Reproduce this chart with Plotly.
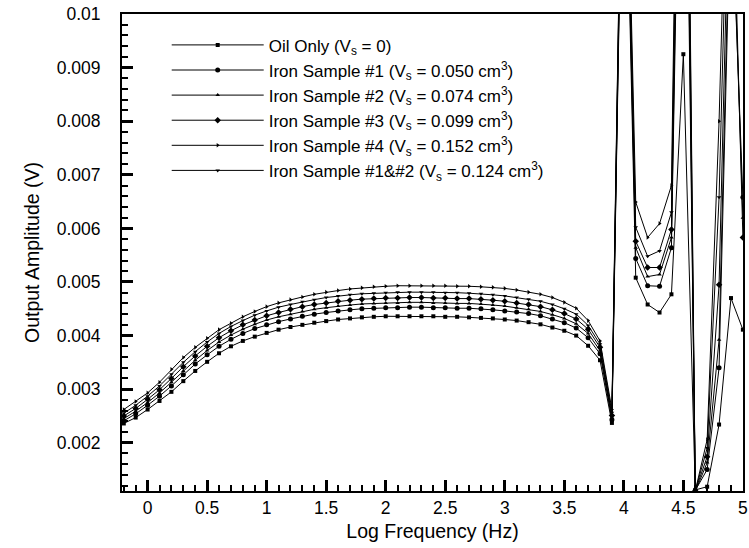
import plotly.graph_objects as go

log_freq = [-0.2, -0.1, 0.0, 0.1, 0.2, 0.3, 0.4, 0.5, 0.6, 0.7, 0.8, 0.9,
            1.0, 1.1, 1.2, 1.3, 1.4, 1.5, 1.6, 1.7, 1.8, 1.9,
            2.0, 2.1, 2.2, 2.3, 2.4, 2.5, 2.6, 2.7, 2.8, 2.9,
            3.0, 3.1, 3.2, 3.3, 3.4, 3.5, 3.6, 3.7, 3.8, 3.9,
            4.0, 4.1, 4.2, 4.3, 4.4, 4.5, 4.6, 4.7, 4.8, 4.9, 5.0]

oil_only = [0.00236, 0.00247, 0.00262, 0.00278, 0.00295, 0.00315, 0.00334, 0.00351, 0.00367, 0.00380, 0.00390, 0.00398,
            0.00405, 0.00411, 0.00416, 0.00420, 0.00424, 0.00427, 0.00430, 0.00432, 0.00434, 0.00435,
            0.00436, 0.00436, 0.00436, 0.00436, 0.00436, 0.00435, 0.00435, 0.00434, 0.00433, 0.00432,
            0.00430, 0.00428, 0.00425, 0.00421, 0.00415, 0.00409, 0.00400, 0.00381, 0.00354, 0.00237,
            0.0150, 0.00508, 0.00458, 0.00443, 0.00477, 0.00925, 0.00112, 0.00118, 0.00234, 0.00470, 0.00411]

sample_1 = [0.00241, 0.00254, 0.00270, 0.00287, 0.00306, 0.00327, 0.00347, 0.00364, 0.00380, 0.00393, 0.00404, 0.00413,
            0.00420, 0.00426, 0.00431, 0.00436, 0.00440, 0.00443, 0.00446, 0.00448, 0.00450, 0.00451,
            0.00452, 0.00452, 0.00453, 0.00453, 0.00452, 0.00452, 0.00451, 0.00451, 0.00450, 0.00448,
            0.00446, 0.00444, 0.00441, 0.00437, 0.00431, 0.00424, 0.00414, 0.00396, 0.00366, 0.00243,
            0.0152, 0.00544, 0.00493, 0.00492, 0.00564, 0.0180, 0.00111, 0.00150, 0.00340, 0.0125, 0.00658]

sample_2 = [0.00245, 0.00259, 0.00275, 0.00293, 0.00313, 0.00334, 0.00354, 0.00372, 0.00388, 0.00401, 0.00412, 0.00421,
            0.00429, 0.00435, 0.00440, 0.00445, 0.00449, 0.00452, 0.00455, 0.00457, 0.00459, 0.00460,
            0.00461, 0.00461, 0.00462, 0.00462, 0.00461, 0.00461, 0.00460, 0.00460, 0.00459, 0.00457,
            0.00455, 0.00452, 0.00449, 0.00445, 0.00439, 0.00432, 0.00422, 0.00404, 0.00372, 0.00247,
            0.0154, 0.00564, 0.00510, 0.00514, 0.00583, 0.0190, 0.00109, 0.00163, 0.00392, 0.0130, 0.00620]

sample_3 = [0.00250, 0.00264, 0.00281, 0.00299, 0.00320, 0.00342, 0.00362, 0.00380, 0.00396, 0.00409, 0.00420, 0.00429,
            0.00437, 0.00443, 0.00449, 0.00454, 0.00458, 0.00461, 0.00464, 0.00466, 0.00468, 0.00469,
            0.00470, 0.00470, 0.00471, 0.00471, 0.00470, 0.00470, 0.00469, 0.00469, 0.00468, 0.00466,
            0.00464, 0.00461, 0.00458, 0.00454, 0.00448, 0.00441, 0.00431, 0.00412, 0.00378, 0.00251,
            0.0156, 0.00576, 0.00527, 0.00527, 0.00598, 0.0200, 0.00110, 0.00174, 0.00495, 0.0140, 0.00583]

sample_4 = [0.00262, 0.00277, 0.00293, 0.00313, 0.00337, 0.00359, 0.00378, 0.00395, 0.00411, 0.00423, 0.00435, 0.00445,
            0.00454, 0.00461, 0.00467, 0.00472, 0.00477, 0.00481, 0.00484, 0.00487, 0.00489, 0.00491,
            0.00492, 0.00493, 0.00493, 0.00493, 0.00493, 0.00493, 0.00492, 0.00492, 0.00491, 0.00490,
            0.00488, 0.00485, 0.00481, 0.00477, 0.00471, 0.00462, 0.00451, 0.00428, 0.00390, 0.00262,
            0.0160, 0.00649, 0.00583, 0.00609, 0.00680, 0.0220, 0.00110, 0.00206, 0.00800, 0.0160, 0.0120]

sample_12 = [0.00255, 0.00270, 0.00287, 0.00306, 0.00328, 0.00350, 0.00370, 0.00388, 0.00404, 0.00417, 0.00428, 0.00438,
             0.00446, 0.00453, 0.00458, 0.00463, 0.00467, 0.00471, 0.00474, 0.00476, 0.00478, 0.00479,
             0.00480, 0.00481, 0.00481, 0.00481, 0.00481, 0.00480, 0.00480, 0.00479, 0.00478, 0.00476,
             0.00474, 0.00471, 0.00468, 0.00464, 0.00458, 0.00450, 0.00440, 0.00419, 0.00384, 0.00256,
             0.0158, 0.00602, 0.00548, 0.00558, 0.00630, 0.0210, 0.00110, 0.00190, 0.00658, 0.0150, 0.0110]

series_names = [
    "Oil Only (V<sub>s</sub> = 0)",
    "Iron Sample #1 (V<sub>s</sub> = 0.050 cm<sup>3</sup>)",
    "Iron Sample #2 (V<sub>s</sub> = 0.074 cm<sup>3</sup>)",
    "Iron Sample #3 (V<sub>s</sub> = 0.099 cm<sup>3</sup>)",
    "Iron Sample #4 (V<sub>s</sub> = 0.152 cm<sup>3</sup>)",
    "Iron Sample #1&#2 (V<sub>s</sub> = 0.124 cm<sup>3</sup>)",
]
series_values = [oil_only, sample_1, sample_2, sample_3, sample_4, sample_12]
series_symbols = ["square", "circle", "triangle-up", "diamond", "triangle-right", "triangle-down"]
series_sizes = [4, 5, 4, 5, 4, 4]

x_tickvals = [0, 0.5, 1, 1.5, 2, 2.5, 3, 3.5, 4, 4.5, 5]
x_ticktext = ["0", "0.5", "1", "1.5", "2", "2.5", "3", "3.5", "4", "4.5", "5"]
y_tickvals = [0.002, 0.003, 0.004, 0.005, 0.006, 0.007, 0.008, 0.009, 0.01]
y_ticktext = ["0.002", "0.003", "0.004", "0.005", "0.006", "0.007", "0.008", "0.009", "0.01"]

FONT = "Liberation Sans, Arial, Helvetica, sans-serif"

fig = go.Figure()
for name, vals, sym, sz in zip(series_names, series_values, series_symbols, series_sizes):
    fig.add_trace(go.Scatter(
        x=log_freq, y=vals, name=name, mode="lines+markers",
        line=dict(color="black", width=1),
        marker=dict(symbol=sym, size=sz, color="black"),
    ))

fig.update_layout(
    width=749, height=548,
    margin=dict(l=122, r=1, t=14, b=57),
    paper_bgcolor="white", plot_bgcolor="white",
    font=dict(family=FONT, size=17, color="black"),
    showlegend=True,
    legend=dict(
        x=0.072, y=0.972, xanchor="left", yanchor="top",
        bgcolor="rgba(0,0,0,0)", borderwidth=0,
        font=dict(family=FONT, size=17, color="black"),
        itemwidth=92, tracegroupgap=0,
    ),
    xaxis=dict(
        range=[-0.215, 5.001], showgrid=False, zeroline=False,
        showline=True, linecolor="black", linewidth=2, mirror=True,
        ticks="inside", ticklen=11, tickwidth=2.5, tickcolor="black",
        tickvals=x_tickvals, ticktext=x_ticktext, ticklabeloverflow="allow",
        tickfont=dict(family=FONT, size=17.5, color="black"),
        minor=dict(ticks="inside", dtick=0.1, tick0=0, ticklen=6, tickwidth=1.5, tickcolor="black", showgrid=False),
        title=dict(text="Log Frequency (Hz)", font=dict(family=FONT, size=19.5, color="black"), standoff=7),
    ),
    yaxis=dict(
        range=[0.0011, 0.01], showgrid=False, zeroline=False,
        showline=True, linecolor="black", linewidth=2, mirror=True,
        ticks="inside", ticklen=11, tickwidth=2.5, tickcolor="black",
        tickvals=y_tickvals, ticktext=y_ticktext,
        tickfont=dict(family=FONT, size=17.5, color="black"),
        ticklabelstandoff=16,
        minor=dict(ticks="inside", dtick=0.0002, tick0=0, ticklen=6, tickwidth=1.5, tickcolor="black", showgrid=False),
        title=dict(text="Output Amplitude (V)", font=dict(family=FONT, size=19.5, color="black"), standoff=12),
    ),
)

fig.write_html("out.html")
